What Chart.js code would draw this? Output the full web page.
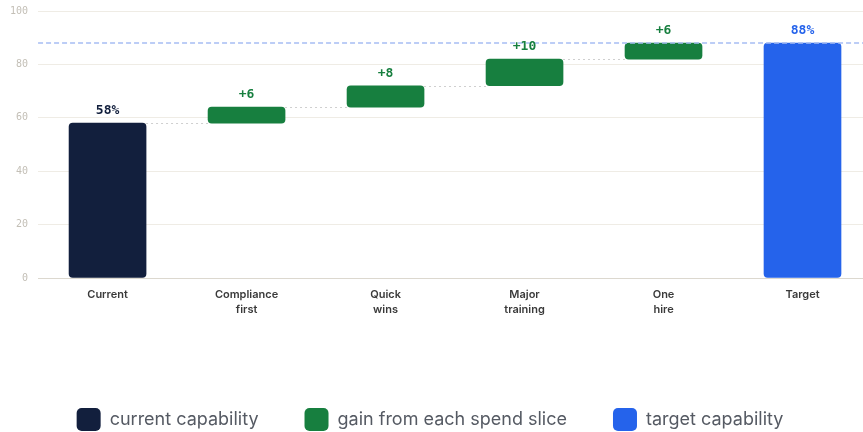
<!DOCTYPE html>
<html>
<head>
<meta charset="utf-8">
<script src="https://cdn.jsdelivr.net/npm/chart.js@4"></script>
<style>
  html, body { margin: 0; padding: 0; background: #fff; overflow: hidden; width: 863px; height: 432px; }
  #wrap { width: 884px; height: 446px; margin-left: -12px; margin-top: -5px; }
</style>
</head>
<body>
<div id="wrap"><canvas id="waterfall"></canvas></div>
<script>
// categories along the x axis (multi-line labels)
const categories = [["Current"], ["Compliance", "first"], ["Quick", "wins"], ["Major", "training"], ["One", "hire"], ["Target"]];
const currentValue = 58;
const gains = [6, 8, 10, 6];
const targetValue = 88;
const yTicks = [0, 20, 40, 60, 80, 100];

const navy = '#121f3d', green = '#177f3f', blue = '#2563eb';

// build floating bars from the arrays
let currentData = categories.map(() => null);
let gainData = categories.map(() => null);
let targetData = categories.map(() => null);
currentData[0] = [0, currentValue];
let run = currentValue;
gains.forEach((g, i) => {
  gainData[i + 1] = [run, run + g];
  run += g;
});
targetData[categories.length - 1] = [0, targetValue];

const monoFont = '"DejaVu Sans Mono", monospace';
const barW = 77;

// dotted connectors, target line and value labels
const waterfallExtras = {
  id: 'waterfallExtras',
  afterDatasetsDraw(chart) {
    const ctx = chart.ctx;
    const x = chart.scales.x, y = chart.scales.y;
    const area = chart.chartArea;
    const half = barW / 2;
    // connectors
    let level = currentValue;
    ctx.save();
    ctx.strokeStyle = '#cfcfcf';
    ctx.lineWidth = 1;
    ctx.setLineDash([2, 3]);
    for (let i = 0; i < categories.length - 2; i++) {
      if (i > 0) level += gains[i - 1];
      let yy = Math.round(y.getPixelForValue(level)) + 0.5;
      ctx.beginPath();
      ctx.moveTo(x.getPixelForValue(i) + half, yy);
      ctx.lineTo(x.getPixelForValue(i + 1) - half, yy);
      ctx.stroke();
    }
    // target dashed line
    ctx.strokeStyle = '#a6bdf3';
    ctx.lineWidth = 1.5;
    ctx.setLineDash([5, 3]);
    let ty = y.getPixelForValue(targetValue);
    ctx.beginPath();
    ctx.moveTo(area.left, ty);
    ctx.lineTo(area.right, ty);
    ctx.stroke();
    ctx.restore();

    // value labels
    ctx.save();
    ctx.font = 'bold 13px ' + monoFont;
    ctx.textAlign = 'center';
    ctx.textBaseline = 'bottom';
    ctx.fillStyle = navy;
    ctx.fillText(currentValue + '%', x.getPixelForValue(0), y.getPixelForValue(currentValue) - 6);
    ctx.fillStyle = green;
    gains.forEach((g, i) => {
      ctx.fillText('+' + g, x.getPixelForValue(i + 1), y.getPixelForValue(gainData[i + 1][1]) - 6);
    });
    ctx.fillStyle = blue;
    ctx.fillText(targetValue + '%', x.getPixelForValue(categories.length - 1), y.getPixelForValue(targetValue) - 6);
    ctx.restore();
  }
};

new Chart(document.getElementById('waterfall'), {
  type: 'bar',
  data: {
    labels: categories,
    datasets: [
      { label: 'current capability', data: currentData, backgroundColor: navy, borderRadius: 4, borderSkipped: false, barThickness: barW },
      { label: 'gain from each spend slice', data: gainData, backgroundColor: green, borderRadius: 4, borderSkipped: false, barThickness: barW },
      { label: 'target capability', data: targetData, backgroundColor: blue, borderRadius: 4, borderSkipped: false, barThickness: barW }
    ]
  },
  options: {
    responsive: true,
    maintainAspectRatio: false,
    animation: false,
    layout: { padding: { top: 1, left: 0, right: 0, bottom: 0 } },
    scales: {
      x: {
        stacked: true,
        grid: { display: false, drawTicks: false },
        border: { display: false },
        ticks: {
          color: '#3a3a3a',
          font: { family: 'Inter', size: 11, weight: '600', lineHeight: 1.3 },
          padding: 10,
          maxRotation: 0
        },
        afterFit: (axis) => { axis.height = 84; }
      },
      y: {
        min: 0,
        max: 100,
        afterBuildTicks: (axis) => { axis.ticks = yTicks.map(v => ({ value: v })); },
        afterFit: (axis) => { axis.width += 12; },
        grid: {
          color: (c) => c.tick && c.tick.value === 0 ? '#dcd8cf' : '#efece5',
          lineWidth: 1,
          drawTicks: false
        },
        border: { display: false },
        ticks: {
          color: '#c3bfb6',
          font: { family: monoFont, size: 10 },
          padding: 10
        }
      }
    },
    plugins: {
      legend: {
        position: 'bottom',
        labels: {
          color: '#555a63',
          font: { family: 'Inter', size: 18 },
          boxWidth: 24,
          boxHeight: 23,
          useBorderRadius: true,
          borderRadius: 5,
          padding: 46
        }
      },
      tooltip: { enabled: false }
    }
  },
  plugins: [waterfallExtras]
});
</script>
</body>
</html>
